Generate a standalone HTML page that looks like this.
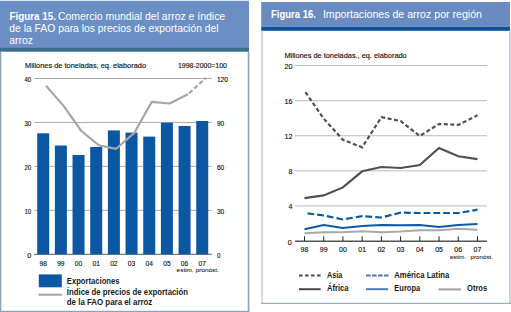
<!DOCTYPE html><html><head><meta charset="utf-8"><style>
html,body{margin:0;padding:0;background:#fff;}
body{width:511px;height:312px;overflow:hidden;}
svg{display:block;}
text{font-family:"Liberation Sans",sans-serif;}
</style></head><body>
<svg width="511" height="312" viewBox="0 0 511 312">
<rect x="0" y="0" width="511" height="312" fill="#fff"/>
<rect x="0" y="0" width="249" height="1" fill="#dde6f0"/>
<rect x="0" y="1" width="249" height="47" fill="#6b8ec4"/>
<rect x="0" y="47.8" width="249" height="3.9" fill="#3a6e8f"/>
<rect x="0" y="51.7" width="1.3" height="260.3" fill="#8ea2b6"/>
<rect x="247.7" y="51.7" width="1.7" height="260.3" fill="#8fa5ba"/>
<rect x="0" y="310.8" width="249.4" height="1.2" fill="#8ea2b6"/>
<rect x="261.2" y="2" width="248.8" height="24.8" fill="#6a8bc2"/>
<rect x="261.2" y="26.8" width="248.8" height="4" fill="#0753a0"/>
<rect x="261.1" y="30.8" width="2.1" height="273" fill="#d5dae2"/>
<rect x="509" y="30.8" width="2" height="273" fill="#cdd3dc"/>
<rect x="261.1" y="302.8" width="249.9" height="1.1" fill="#94a7bb"/>
<text x="9.4" y="19.5" font-size="11" font-weight="bold" fill="#fff" textLength="46.5" lengthAdjust="spacingAndGlyphs">Figura 15.</text>
<text x="57.9" y="19.5" font-size="11" fill="#fff" textLength="167.3" lengthAdjust="spacingAndGlyphs">Comercio mundial del arroz e índice</text>
<text x="9.3" y="31.9" font-size="11" fill="#fff" textLength="209.3" lengthAdjust="spacingAndGlyphs">de la FAO para los precios de exportación del</text>
<text x="9.3" y="44.4" font-size="11" fill="#fff" textLength="23.7" lengthAdjust="spacingAndGlyphs">arroz</text>
<text x="271" y="18" font-size="11" font-weight="bold" fill="#fff" textLength="44.9" lengthAdjust="spacingAndGlyphs">Figura 16.</text>
<text x="322.9" y="18" font-size="11" fill="#fff" textLength="159.1" lengthAdjust="spacingAndGlyphs">Importaciones de arroz por región</text>
<text x="25" y="67.8" font-size="7.6" fill="#111" stroke="#111" stroke-width="0.15" textLength="121" lengthAdjust="spacingAndGlyphs">Millones de toneladas, eq. elaborado</text>
<text x="178" y="67.8" font-size="7.4" fill="#111" stroke="#111" stroke-width="0.15" textLength="49" lengthAdjust="spacingAndGlyphs">1998-2000=100</text>
<line x1="34.3" y1="78.50" x2="211.7" y2="78.50" stroke="#aaaaaa" stroke-width="1.0"/>
<text x="31.2" y="81.90" font-size="7.2" fill="#111" stroke="#111" stroke-width="0.15" text-anchor="end" textLength="6.8" lengthAdjust="spacingAndGlyphs">40</text>
<text x="216.9" y="81.80" font-size="7.2" fill="#111" stroke="#111" stroke-width="0.15" textLength="11.2" lengthAdjust="spacingAndGlyphs">120</text>
<line x1="34.3" y1="122.45" x2="211.7" y2="122.45" stroke="#aaaaaa" stroke-width="1.0"/>
<text x="31.2" y="125.85" font-size="7.2" fill="#111" stroke="#111" stroke-width="0.15" text-anchor="end" textLength="6.8" lengthAdjust="spacingAndGlyphs">30</text>
<text x="216.9" y="125.75" font-size="7.2" fill="#111" stroke="#111" stroke-width="0.15" textLength="7.3" lengthAdjust="spacingAndGlyphs">90</text>
<line x1="34.3" y1="166.40" x2="211.7" y2="166.40" stroke="#aaaaaa" stroke-width="1.0"/>
<text x="31.2" y="169.80" font-size="7.2" fill="#111" stroke="#111" stroke-width="0.15" text-anchor="end" textLength="6.8" lengthAdjust="spacingAndGlyphs">20</text>
<text x="216.9" y="169.70" font-size="7.2" fill="#111" stroke="#111" stroke-width="0.15" textLength="7.3" lengthAdjust="spacingAndGlyphs">60</text>
<line x1="34.3" y1="210.35" x2="211.7" y2="210.35" stroke="#aaaaaa" stroke-width="1.0"/>
<text x="31.2" y="213.75" font-size="7.2" fill="#111" stroke="#111" stroke-width="0.15" text-anchor="end" textLength="6.8" lengthAdjust="spacingAndGlyphs">10</text>
<text x="216.9" y="213.65" font-size="7.2" fill="#111" stroke="#111" stroke-width="0.15" textLength="7.3" lengthAdjust="spacingAndGlyphs">30</text>
<line x1="34.3" y1="254.30" x2="211.7" y2="254.30" stroke="#7a7a7a" stroke-width="1.3"/>
<text x="31.2" y="257.70" font-size="7.2" fill="#111" stroke="#111" stroke-width="0.15" text-anchor="end">0</text>
<text x="216.9" y="257.60" font-size="7.2" fill="#111" stroke="#111" stroke-width="0.15" textLength="3.4" lengthAdjust="spacingAndGlyphs">0</text>
<rect x="37.20" y="133.3" width="12" height="121.00" fill="#0b57a3"/>
<text x="39.50" y="265.6" font-size="7.9" fill="#111" stroke="#111" stroke-width="0.15" textLength="7.4" lengthAdjust="spacingAndGlyphs">98</text>
<rect x="54.87" y="145.5" width="12" height="108.80" fill="#0b57a3"/>
<text x="57.17" y="265.6" font-size="7.9" fill="#111" stroke="#111" stroke-width="0.15" textLength="7.4" lengthAdjust="spacingAndGlyphs">99</text>
<rect x="72.54" y="155" width="12" height="99.30" fill="#0b57a3"/>
<text x="74.84" y="265.6" font-size="7.9" fill="#111" stroke="#111" stroke-width="0.15" textLength="7.4" lengthAdjust="spacingAndGlyphs">00</text>
<rect x="90.21" y="147" width="12" height="107.30" fill="#0b57a3"/>
<text x="92.51" y="265.6" font-size="7.9" fill="#111" stroke="#111" stroke-width="0.15" textLength="7.4" lengthAdjust="spacingAndGlyphs">01</text>
<rect x="107.88" y="130.4" width="12" height="123.90" fill="#0b57a3"/>
<text x="110.18" y="265.6" font-size="7.9" fill="#111" stroke="#111" stroke-width="0.15" textLength="7.4" lengthAdjust="spacingAndGlyphs">02</text>
<rect x="125.55" y="132.6" width="12" height="121.70" fill="#0b57a3"/>
<text x="127.85" y="265.6" font-size="7.9" fill="#111" stroke="#111" stroke-width="0.15" textLength="7.4" lengthAdjust="spacingAndGlyphs">03</text>
<rect x="143.22" y="136.6" width="12" height="117.70" fill="#0b57a3"/>
<text x="145.52" y="265.6" font-size="7.9" fill="#111" stroke="#111" stroke-width="0.15" textLength="7.4" lengthAdjust="spacingAndGlyphs">04</text>
<rect x="160.89" y="122.7" width="12" height="131.60" fill="#0b57a3"/>
<text x="163.19" y="265.6" font-size="7.9" fill="#111" stroke="#111" stroke-width="0.15" textLength="7.4" lengthAdjust="spacingAndGlyphs">05</text>
<rect x="178.56" y="126" width="12" height="128.30" fill="#0b57a3"/>
<text x="180.86" y="265.6" font-size="7.9" fill="#111" stroke="#111" stroke-width="0.15" textLength="7.4" lengthAdjust="spacingAndGlyphs">06</text>
<rect x="196.23" y="121" width="12" height="133.30" fill="#0b57a3"/>
<text x="198.53" y="265.6" font-size="7.9" fill="#111" stroke="#111" stroke-width="0.15" textLength="7.4" lengthAdjust="spacingAndGlyphs">07</text>
<polyline points="46.0,85.8 64.0,106.4 81.3,131.0 99.0,145.3 116.2,148.8 134.5,132.6 151.8,101.8 169.6,103.5 188.0,94.2" fill="none" stroke="#a6a6a6" stroke-width="2.2" stroke-linejoin="round"/>
<line x1="188" y1="94.2" x2="206" y2="77.8" stroke="#a6a6a6" stroke-width="2.2" stroke-dasharray="4.6,2.3" stroke-dashoffset="5.5"/>
<text x="176.6" y="272" font-size="6" fill="#111" stroke="#111" stroke-width="0.05" textLength="17.2" lengthAdjust="spacingAndGlyphs">estim.</text>
<text x="195.7" y="272" font-size="6" fill="#111" stroke="#111" stroke-width="0.05" textLength="23.2" lengthAdjust="spacingAndGlyphs">pronóst.</text>
<rect x="38.8" y="274.4" width="23" height="12.9" fill="#0b57a3"/>
<line x1="38.5" y1="294.7" x2="62" y2="294.7" stroke="#a3a3a3" stroke-width="2"/>
<text x="66.8" y="283.6" font-size="8.3" font-weight="bold" fill="#1a1a1a" textLength="52.7" lengthAdjust="spacingAndGlyphs">Exportaciones</text>
<text x="66.8" y="294.7" font-size="8.3" font-weight="bold" fill="#1a1a1a" textLength="121.2" lengthAdjust="spacingAndGlyphs">Índice de precios de exportación</text>
<text x="66.8" y="304.6" font-size="8.3" font-weight="bold" fill="#1a1a1a" textLength="85.5" lengthAdjust="spacingAndGlyphs">de la FAO para el arroz</text>
<text x="284.4" y="58.2" font-size="7.5" fill="#111" stroke="#111" stroke-width="0.15" textLength="122.3" lengthAdjust="spacingAndGlyphs">Millones de toneladas., eq. elaborado</text>
<line x1="295" y1="65.60" x2="487" y2="65.60" stroke="#a8a8a8" stroke-width="0.8"/>
<text x="292.4" y="69.10" font-size="7.3" fill="#111" stroke="#111" stroke-width="0.15" text-anchor="end" textLength="8" lengthAdjust="spacingAndGlyphs">20</text>
<line x1="295" y1="100.68" x2="487" y2="100.68" stroke="#a8a8a8" stroke-width="0.8"/>
<text x="292.4" y="104.18" font-size="7.3" fill="#111" stroke="#111" stroke-width="0.15" text-anchor="end" textLength="8" lengthAdjust="spacingAndGlyphs">16</text>
<line x1="295" y1="135.76" x2="487" y2="135.76" stroke="#a8a8a8" stroke-width="0.8"/>
<text x="292.4" y="139.26" font-size="7.3" fill="#111" stroke="#111" stroke-width="0.15" text-anchor="end" textLength="8" lengthAdjust="spacingAndGlyphs">12</text>
<line x1="295" y1="170.84" x2="487" y2="170.84" stroke="#a8a8a8" stroke-width="0.8"/>
<text x="292.4" y="174.34" font-size="7.3" fill="#111" stroke="#111" stroke-width="0.15" text-anchor="end" textLength="4" lengthAdjust="spacingAndGlyphs">8</text>
<line x1="295" y1="205.92" x2="487" y2="205.92" stroke="#a8a8a8" stroke-width="0.8"/>
<text x="292.4" y="209.42" font-size="7.3" fill="#111" stroke="#111" stroke-width="0.15" text-anchor="end" textLength="4" lengthAdjust="spacingAndGlyphs">4</text>
<text x="291.8" y="244.6" font-size="7.3" fill="#111" stroke="#111" stroke-width="0.15" text-anchor="end" textLength="4" lengthAdjust="spacingAndGlyphs">0</text>
<line x1="295" y1="241.2" x2="487" y2="241.2" stroke="#555" stroke-width="1.4"/>
<line x1="304.50" y1="236.3" x2="304.50" y2="241.2" stroke="#222" stroke-width="1"/>
<text x="300.60" y="252.3" font-size="7.7" fill="#111" stroke="#111" stroke-width="0.15" textLength="7.8" lengthAdjust="spacingAndGlyphs">98</text>
<line x1="323.72" y1="236.3" x2="323.72" y2="241.2" stroke="#222" stroke-width="1"/>
<text x="319.82" y="252.3" font-size="7.7" fill="#111" stroke="#111" stroke-width="0.15" textLength="7.8" lengthAdjust="spacingAndGlyphs">99</text>
<line x1="342.94" y1="236.3" x2="342.94" y2="241.2" stroke="#222" stroke-width="1"/>
<text x="339.04" y="252.3" font-size="7.7" fill="#111" stroke="#111" stroke-width="0.15" textLength="7.8" lengthAdjust="spacingAndGlyphs">00</text>
<line x1="362.16" y1="236.3" x2="362.16" y2="241.2" stroke="#222" stroke-width="1"/>
<text x="358.26" y="252.3" font-size="7.7" fill="#111" stroke="#111" stroke-width="0.15" textLength="7.8" lengthAdjust="spacingAndGlyphs">01</text>
<line x1="381.38" y1="236.3" x2="381.38" y2="241.2" stroke="#222" stroke-width="1"/>
<text x="377.48" y="252.3" font-size="7.7" fill="#111" stroke="#111" stroke-width="0.15" textLength="7.8" lengthAdjust="spacingAndGlyphs">02</text>
<line x1="400.60" y1="236.3" x2="400.60" y2="241.2" stroke="#222" stroke-width="1"/>
<text x="396.70" y="252.3" font-size="7.7" fill="#111" stroke="#111" stroke-width="0.15" textLength="7.8" lengthAdjust="spacingAndGlyphs">03</text>
<line x1="419.82" y1="236.3" x2="419.82" y2="241.2" stroke="#222" stroke-width="1"/>
<text x="415.92" y="252.3" font-size="7.7" fill="#111" stroke="#111" stroke-width="0.15" textLength="7.8" lengthAdjust="spacingAndGlyphs">04</text>
<line x1="439.04" y1="236.3" x2="439.04" y2="241.2" stroke="#222" stroke-width="1"/>
<text x="435.14" y="252.3" font-size="7.7" fill="#111" stroke="#111" stroke-width="0.15" textLength="7.8" lengthAdjust="spacingAndGlyphs">05</text>
<line x1="458.26" y1="236.3" x2="458.26" y2="241.2" stroke="#222" stroke-width="1"/>
<text x="454.36" y="252.3" font-size="7.7" fill="#111" stroke="#111" stroke-width="0.15" textLength="7.8" lengthAdjust="spacingAndGlyphs">06</text>
<line x1="477.48" y1="236.3" x2="477.48" y2="241.2" stroke="#222" stroke-width="1"/>
<text x="473.58" y="252.3" font-size="7.7" fill="#111" stroke="#111" stroke-width="0.15" textLength="7.8" lengthAdjust="spacingAndGlyphs">07</text>
<text x="449.9" y="258.8" font-size="6" fill="#111" stroke="#111" stroke-width="0.05" textLength="16.1" lengthAdjust="spacingAndGlyphs">estim.</text>
<text x="470.5" y="258.8" font-size="6" fill="#111" stroke="#111" stroke-width="0.05" textLength="22.5" lengthAdjust="spacingAndGlyphs">pronóst.</text>
<polyline points="304.5,233.2 323.7,232.2 342.9,232.2 362.2,231.2 381.4,232.2 400.6,231.5 419.8,230.2 439.0,230.2 458.3,228.7 477.5,229.8" fill="none" stroke="#a8a8a8" stroke-width="2"/>
<polyline points="304.5,229.2 323.7,225.0 342.9,227.9 362.2,225.9 381.4,225.0 400.6,225.2 419.8,225.0 439.0,226.9 458.3,225.0 477.5,224.0" fill="none" stroke="#0a5aa8" stroke-width="2"/>
<polyline points="304.5,213.0 323.7,215.5 342.9,219.5 362.2,216.1 381.4,217.5 400.6,212.6 419.8,213.0 439.0,213.0 458.3,213.0 477.5,209.7" fill="none" stroke="#0a5aa8" stroke-width="2.2" stroke-dasharray="6.8,3" stroke-dashoffset="6.8"/>
<polyline points="304.5,198.1 323.7,195.4 342.9,187.4 362.2,171.3 381.4,167.0 400.6,168.0 419.8,165.0 439.0,148.0 458.3,156.3 477.5,159.2" fill="none" stroke="#505050" stroke-width="2.2"/>
<polyline points="305.4,92.2 323.7,118.6 342.9,139.8 362.2,147.3 381.4,117.2 400.6,121.0 419.8,136.0 439.0,124.0 458.3,124.9 477.5,115.3" fill="none" stroke="#505050" stroke-width="2.2" stroke-dasharray="4,2.5"/>
<line x1="299" y1="275.6" x2="320.7" y2="275.6" stroke="#4a4a4a" stroke-width="2" stroke-dasharray="3.6,2.4"/>
<line x1="299" y1="289.2" x2="320.7" y2="289.2" stroke="#4a4a4a" stroke-width="2"/>
<line x1="366" y1="275.6" x2="388.9" y2="275.6" stroke="#4d77b8" stroke-width="2" stroke-dasharray="4.6,1.4"/>
<line x1="366" y1="289.2" x2="388.2" y2="289.2" stroke="#4d77b8" stroke-width="2"/>
<line x1="438.5" y1="289.4" x2="460.9" y2="289.4" stroke="#a8a8a8" stroke-width="2.2"/>
<text x="327" y="278" font-size="8.4" font-weight="bold" fill="#1a1a1a" textLength="15.3" lengthAdjust="spacingAndGlyphs">Asia</text>
<text x="327" y="291.2" font-size="8.4" font-weight="bold" fill="#1a1a1a" textLength="21.6" lengthAdjust="spacingAndGlyphs">África</text>
<text x="394.3" y="278" font-size="8.4" font-weight="bold" fill="#1a1a1a" textLength="54.9" lengthAdjust="spacingAndGlyphs">América Latina</text>
<text x="394.3" y="291.2" font-size="8.4" font-weight="bold" fill="#1a1a1a" textLength="26" lengthAdjust="spacingAndGlyphs">Europa</text>
<text x="467" y="291.2" font-size="8.4" font-weight="bold" fill="#1a1a1a" textLength="20.2" lengthAdjust="spacingAndGlyphs">Otros</text>
</svg></body></html>
